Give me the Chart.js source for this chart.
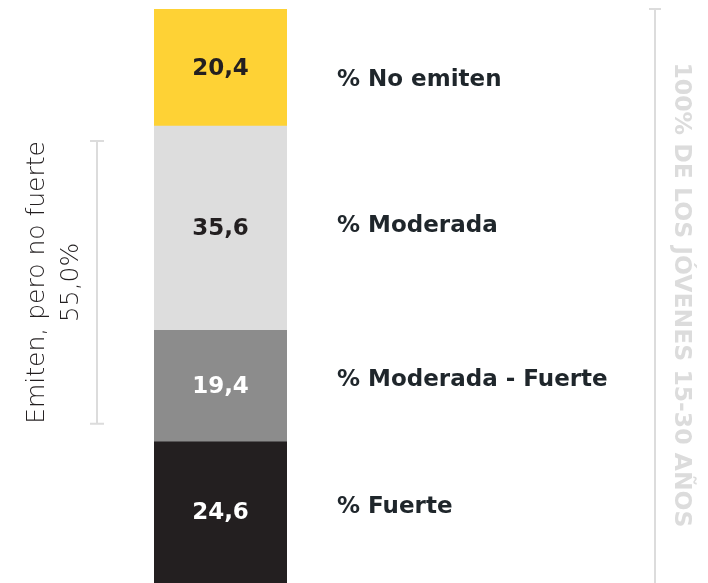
<!DOCTYPE html>
<html><head><meta charset="utf-8">
<script src="https://cdn.jsdelivr.net/npm/chart.js@4"></script>
<style>html,body{margin:0;padding:0;background:#fff}#wrap{width:708px;height:583px;position:relative}</style>
</head><body><div id="wrap"><canvas id="c" width="708" height="583"></canvas></div>
<script>
const categories = ["Jóvenes 15-30 años"];
const seriesNames = ["% Fuerte", "% Moderada - Fuerte", "% Moderada", "% No emiten"];
const seriesValues = [24.6, 19.4, 35.6, 20.4];
const valueLabels = ["24,6", "19,4", "35,6", "20,4"];
const bracketLabel = ["Emiten, pero no fuerte", "55,0%"];
const sideTitle = "100% DE LOS JÓVENES 15-30 AÑOS";

const colors = ["#231f20", "#8c8c8c", "#dddddd", "#fed235"];
const valueColors = ["#ffffff", "#ffffff", "#231f20", "#231f20"];
const lineColor = "#dcdcdc";
// small vertical nudges for the category labels (layout only)
const labelNudge = [-6, -7, -3, 11];

const annot = {
  id: 'annot',
  afterDatasetsDraw(chart) {
    const ctx = chart.ctx, ca = chart.chartArea;
    ctx.save();
    const els = seriesValues.map((v, i) => chart.getDatasetMeta(i).data[0]);
    els.forEach((el, i) => {
      const cy = (el.y + el.base) / 2;
      ctx.font = "bold 23px 'DejaVu Sans', sans-serif";
      ctx.textAlign = "center"; ctx.textBaseline = "middle";
      ctx.fillStyle = valueColors[i];
      ctx.fillText(valueLabels[i], el.x, cy + 1);
      ctx.textAlign = "left";
      ctx.fillStyle = "#1f262b";
      ctx.fillText(seriesNames[i], ca.right + 50, cy + 1 + labelNudge[i]);
    });
    // left bracket spanning Moderada + Moderada - Fuerte
    const top = els[2].y + 15, bot = els[1].base - 18;
    ctx.strokeStyle = lineColor; ctx.lineWidth = 2;
    ctx.beginPath();
    ctx.moveTo(97, top); ctx.lineTo(97, bot);
    ctx.moveTo(90, top); ctx.lineTo(104, top);
    ctx.moveTo(90, bot); ctx.lineTo(104, bot);
    ctx.stroke();
    const mid = (top + bot) / 2;
    ctx.save();
    ctx.translate(37, mid);
    ctx.rotate(-Math.PI / 2);
    ctx.fillStyle = "#231f20";
    ctx.font = "200 25px 'DejaVu Sans', sans-serif";
    ctx.textAlign = "center"; ctx.textBaseline = "middle";
    ctx.fillText(bracketLabel[0], 0, 0);
    ctx.fillText(bracketLabel[1], 0, 34);
    ctx.restore();
    // right bracket
    ctx.beginPath();
    ctx.moveTo(655, ca.top); ctx.lineTo(655, ca.bottom);
    ctx.moveTo(649, ca.top); ctx.lineTo(661, ca.top);
    ctx.stroke();
    ctx.save();
    ctx.translate(681, 295);
    ctx.rotate(Math.PI / 2);
    ctx.fillStyle = lineColor;
    ctx.font = "bold 23.5px 'DejaVu Sans', sans-serif";
    ctx.textAlign = "center"; ctx.textBaseline = "middle";
    ctx.fillText(sideTitle, 0, 0);
    ctx.restore();
    ctx.restore();
  }
};

new Chart(document.getElementById('c'), {
  type: 'bar',
  data: {
    labels: categories,
    datasets: seriesValues.map((v, i) => ({
      label: seriesNames[i],
      data: [v],
      backgroundColor: colors[i],
      borderWidth: 0,
      barPercentage: 1,
      categoryPercentage: 1
    }))
  },
  options: {
    responsive: false,
    animation: false,
    layout: { padding: { left: 154, right: 421, top: 9, bottom: 0 } },
    plugins: { legend: { display: false }, tooltip: { enabled: false } },
    scales: {
      x: { stacked: true, display: false },
      y: { stacked: true, display: false, min: 0, max: 100 }
    }
  },
  plugins: [annot]
});
</script>
</body></html>
